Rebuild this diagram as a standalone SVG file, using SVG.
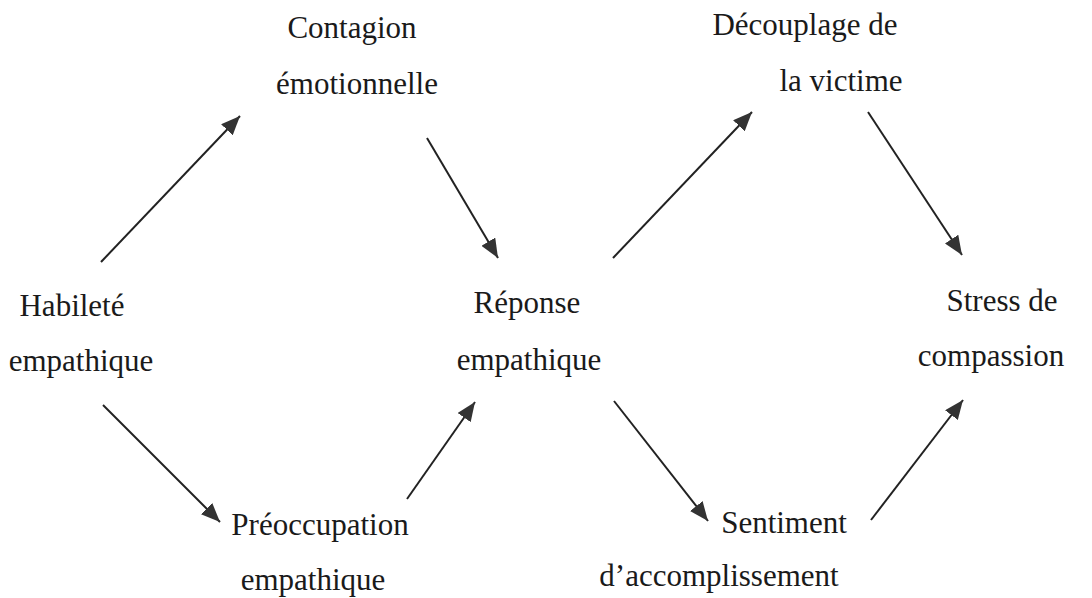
<svg xmlns="http://www.w3.org/2000/svg" width="1092" height="598" viewBox="0 0 1092 598">
<style>
text{font-family:'Liberation Serif','Times New Roman',Times,serif;font-size:31px;fill:#1a1a1a;text-anchor:middle}
.c line{stroke:#222;stroke-width:2;marker-end:url(#ah)}
</style>
<defs>
<marker id="ah" markerUnits="userSpaceOnUse" markerWidth="20" markerHeight="16" refX="19" refY="8" orient="auto">
<path d="M0,0 L19,8 L0,16 z" fill="#333"/>
</marker>
</defs>
<rect width="1092" height="598" fill="#fff"/>
<g id="habilete" font-family="Liberation Serif, serif"><text x="72" y="316">Habileté</text><text x="81" y="371">empathique</text></g>
<g id="contagion"><text x="352" y="38">Contagion</text><text x="357" y="94">émotionnelle</text></g>
<g id="preoccupation"><text x="320" y="535">Préoccupation</text><text x="313" y="590">empathique</text></g>
<g id="reponse"><text x="527" y="313">Réponse</text><text x="529" y="370">empathique</text></g>
<g id="decouplage"><text x="805" y="35">Découplage de</text><text x="841" y="91">la victime</text></g>
<g id="sentiment"><text x="784" y="533">Sentiment</text><text x="719" y="586">d’accomplissement</text></g>
<g id="stress"><text x="1002" y="311">Stress de</text><text x="991" y="366">compassion</text></g>
<g id="connectors" class="c">
<line x1="101" y1="262" x2="240" y2="116"/>
<line x1="427" y1="138" x2="498" y2="258"/>
<line x1="103" y1="405" x2="220" y2="522"/>
<line x1="407" y1="499" x2="475" y2="402"/>
<line x1="613" y1="258" x2="752" y2="112"/>
<line x1="868" y1="112" x2="962" y2="255"/>
<line x1="614" y1="401" x2="708" y2="521"/>
<line x1="871" y1="520" x2="963" y2="400"/>
</g>
</svg>
